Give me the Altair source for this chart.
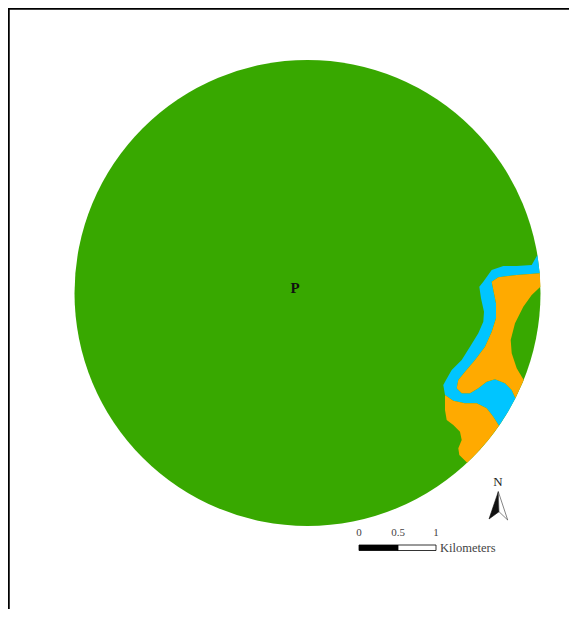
import altair as alt
import pandas as pd

# All positions are in map units (reference picture pixels)
circle_x = [307.5]
circle_y = [293]
circle_area = [217156]

blue_x = [537.4,531.7,516.7,503.3,491.7,483.3,479.3,481,484,483.3,478.3,470,461.7,451.7,446,443.3,445,453.3,465,476.7,486.7,493.3,499,508,515.4,511.7,505,495,486.7,478.3,470,461.7,456.7,458.3,465,475,485,491.7,496,496,493.3,491.7,498.3,516.7,539.7,538.1]
blue_y = [255,265,266,266,270,281.7,286.7,298.3,311.7,321.7,333.3,346.7,360,370,380,385,395,400.7,403.3,403.3,408.3,416.7,425.7,411.7,398.3,390,383.3,379.3,381.7,388.3,393.3,393.3,388.3,380,371.7,360,346.7,331.7,318.3,303.3,290,281.7,277.3,275,273.3,260]

orange1_x = [539.7,516.7,498.3,491.7,493.3,496,496,491.7,485,475,465,458.3,456.7,461.7,470,478.3,486.7,495,505,511.7,515.4,523.7,516.7,511.7,510.7,515,523.3,531.7,540.4,540.1]
orange1_y = [273.3,275,277.3,281.7,290,303.3,318.3,331.7,346.7,360,371.7,380,388.3,393.3,393.3,388.3,381.7,379.3,383.3,390,398.3,380,368.3,353.3,340,323.3,306.7,295,286.7,280]

orange2_x = [445,453.3,465,476.7,486.7,493.3,499,488.3,476.6,467.2,459.3,458.3,461.7,460,453.3,446.7,445]
orange2_y = [395,400.7,403.3,403.3,408.3,416.7,425.7,440,453.3,462.7,455,448.3,440,431.7,425,420,410]

arrow_left_x = [498.3,489,499]
arrow_left_y = [491.7,519,511.7]
arrow_right_x = [498.3,499,507.7]
arrow_right_y = [491.7,511.7,520]

bar_black = [359, 398]
bar_white = [398, 436]
bar_y = [545, 550.5]

scale_labels = ["0", "0.5", "1"]
scale_label_x = [359, 398, 436]
scale_label_y = [533, 533, 533]

frame_left = [8.5]
frame_top = [8.5]

X = alt.Scale(domain=[8, 569], nice=False, zero=False)
Y = alt.Scale(domain=[609, 8], nice=False, zero=False)


def poly(xs, ys, fill, stroke=None, sw=0):
    df = pd.DataFrame({"x": xs + xs[:1], "y": ys + ys[:1]})
    df["o"] = range(len(df))
    return alt.Chart(df).mark_line(
        fill=fill, stroke=stroke or fill, strokeWidth=sw, interpolate="linear"
    ).encode(
        x=alt.X("x:Q", scale=X, axis=None),
        y=alt.Y("y:Q", scale=Y, axis=None),
        order="o:Q",
    )


circle = alt.Chart(pd.DataFrame({"x": circle_x, "y": circle_y, "a": circle_area})).mark_circle(
    color="#38A800", opacity=1
).encode(
    x=alt.X("x:Q", scale=X, axis=None),
    y=alt.Y("y:Q", scale=Y, axis=None),
    size=alt.Size("a:Q", scale=None, legend=None),
)


def box(xs, fill):
    df = pd.DataFrame({"x": [xs[0]], "x2": [xs[1]], "y": [bar_y[0]], "y2": [bar_y[1]]})
    return alt.Chart(df).mark_rect(fill=fill, stroke="black", strokeWidth=0.8).encode(
        x=alt.X("x:Q", scale=X, axis=None), x2="x2:Q",
        y=alt.Y("y:Q", scale=Y, axis=None), y2="y2:Q",
    )


def text(df, size, weight="normal", color="#222222", align="center"):
    return alt.Chart(df).mark_text(
        font="Liberation Serif", fontSize=size, fontWeight=weight, color=color,
        align=align, baseline="middle",
    ).encode(
        x=alt.X("x:Q", scale=X, axis=None),
        y=alt.Y("y:Q", scale=Y, axis=None),
        text="t:N",
    )


labels = text(pd.DataFrame({"x": scale_label_x, "y": scale_label_y, "t": scale_labels}), 11, color="#444444")
km = text(pd.DataFrame({"x": [440], "y": [548], "t": ["Kilometers"]}), 12.5, color="#444444", align="left")
p = text(pd.DataFrame({"x": [295], "y": [288], "t": ["P"]}), 15, weight="bold", color="#111111")
north = text(pd.DataFrame({"x": [498], "y": [482], "t": ["N"]}), 13, color="#222222")

left_rule = alt.Chart(pd.DataFrame({"x": frame_left})).mark_rule(color="black", strokeWidth=2.5).encode(
    x=alt.X("x:Q", scale=X, axis=None)
)
top_rule = alt.Chart(pd.DataFrame({"y": frame_top})).mark_rule(color="black", strokeWidth=2.5).encode(
    y=alt.Y("y:Q", scale=Y, axis=None)
)

chart = alt.layer(
    circle,
    poly(blue_x, blue_y, "#00C5FF"),
    poly(orange1_x, orange1_y, "#FFAA00"),
    poly(orange2_x, orange2_y, "#FFAA00"),
    poly(arrow_left_x, arrow_left_y, "#111111", "#111111", 0.6),
    poly(arrow_right_x, arrow_right_y, "#ffffff", "#333333", 0.6),
    box(bar_black, "black"),
    box(bar_white, "white"),
    labels, km, p, north, left_rule, top_rule,
).properties(
    width=561, height=601, padding=0, background="white",
    autosize=alt.AutoSizeParams(type="none", contains="padding"),
).configure_view(stroke=None)

chart.save("out.html", embed_options={"renderer": "svg", "actions": False})
